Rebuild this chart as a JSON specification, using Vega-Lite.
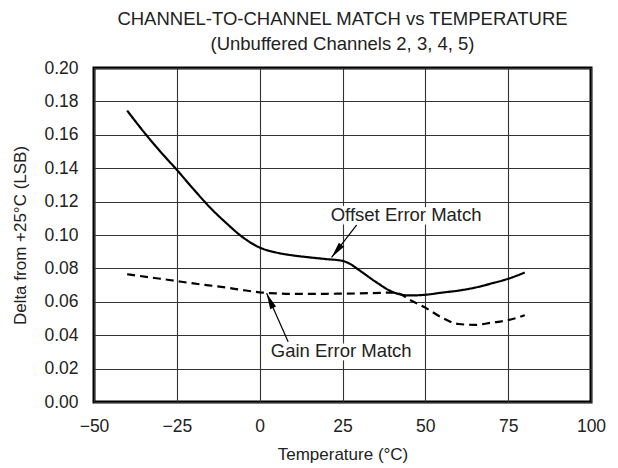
{
  "$schema": "https://vega.github.io/schema/vega-lite/v6.json",
  "width": 497,
  "height": 334,
  "autosize": {"type": "none"},
  "padding": {"left": 94, "top": 68, "right": 27, "bottom": 66},
  "background": "white",
  "title": {
    "text": ["CHANNEL-TO-CHANNEL MATCH vs TEMPERATURE", "(Unbuffered Channels 2, 3, 4, 5)"],
    "font": "Liberation Sans",
    "fontSize": 18.5,
    "fontWeight": "normal",
    "color": "#222",
    "lineHeight": 25,
    "offset": 6,
    "anchor": "middle"
  },
  "config": {
    "font": "Liberation Sans",
    "view": {"stroke": "#000", "strokeWidth": 3},
    "axis": {
      "labelFont": "Liberation Sans",
      "labelFontSize": 17.5,
      "labelColor": "#222",
      "labelFlush": false,
      "titleFont": "Liberation Sans",
      "titleFontSize": 17,
      "titleFontWeight": "normal",
      "titleColor": "#222",
      "ticks": false,
      "domain": false,
      "gridColor": "#333",
      "gridWidth": 1.1,
      "gridOpacity": 1
    }
  },
  "datasets": {
    "curves": [
      {"series": "Offset Error Match", "t": -40, "v": 0.1745},
      {"series": "Offset Error Match", "t": -35, "v": 0.1618},
      {"series": "Offset Error Match", "t": -30, "v": 0.150},
      {"series": "Offset Error Match", "t": -25, "v": 0.139},
      {"series": "Offset Error Match", "t": -20, "v": 0.1275},
      {"series": "Offset Error Match", "t": -15, "v": 0.1165},
      {"series": "Offset Error Match", "t": -10, "v": 0.107},
      {"series": "Offset Error Match", "t": -5, "v": 0.0985},
      {"series": "Offset Error Match", "t": 0, "v": 0.0925},
      {"series": "Offset Error Match", "t": 5, "v": 0.0895},
      {"series": "Offset Error Match", "t": 10, "v": 0.0878},
      {"series": "Offset Error Match", "t": 15, "v": 0.0866},
      {"series": "Offset Error Match", "t": 20, "v": 0.0856},
      {"series": "Offset Error Match", "t": 25, "v": 0.0845},
      {"series": "Offset Error Match", "t": 27, "v": 0.083},
      {"series": "Offset Error Match", "t": 30, "v": 0.079},
      {"series": "Offset Error Match", "t": 35, "v": 0.072},
      {"series": "Offset Error Match", "t": 40, "v": 0.066},
      {"series": "Offset Error Match", "t": 45, "v": 0.0638},
      {"series": "Offset Error Match", "t": 50, "v": 0.0642},
      {"series": "Offset Error Match", "t": 55, "v": 0.0655},
      {"series": "Offset Error Match", "t": 60, "v": 0.0667},
      {"series": "Offset Error Match", "t": 65, "v": 0.0685},
      {"series": "Offset Error Match", "t": 70, "v": 0.071},
      {"series": "Offset Error Match", "t": 75, "v": 0.0738},
      {"series": "Offset Error Match", "t": 80, "v": 0.0775},
      {"series": "Gain Error Match", "t": -40, "v": 0.0765},
      {"series": "Gain Error Match", "t": -30, "v": 0.0738},
      {"series": "Gain Error Match", "t": -25, "v": 0.0724},
      {"series": "Gain Error Match", "t": -20, "v": 0.071},
      {"series": "Gain Error Match", "t": -10, "v": 0.0685},
      {"series": "Gain Error Match", "t": -5, "v": 0.067},
      {"series": "Gain Error Match", "t": 0, "v": 0.0657},
      {"series": "Gain Error Match", "t": 5, "v": 0.065},
      {"series": "Gain Error Match", "t": 10, "v": 0.0647},
      {"series": "Gain Error Match", "t": 20, "v": 0.0648},
      {"series": "Gain Error Match", "t": 30, "v": 0.065},
      {"series": "Gain Error Match", "t": 40, "v": 0.0655},
      {"series": "Gain Error Match", "t": 42, "v": 0.065},
      {"series": "Gain Error Match", "t": 45, "v": 0.0615},
      {"series": "Gain Error Match", "t": 50, "v": 0.0565},
      {"series": "Gain Error Match", "t": 55, "v": 0.0505},
      {"series": "Gain Error Match", "t": 60, "v": 0.0467},
      {"series": "Gain Error Match", "t": 65, "v": 0.0462},
      {"series": "Gain Error Match", "t": 70, "v": 0.0475},
      {"series": "Gain Error Match", "t": 75, "v": 0.049},
      {"series": "Gain Error Match", "t": 80, "v": 0.052}
    ],
    "arrows": [
      {"label": "Offset Error Match", "t": 29.3, "v": 0.106, "t2": 21.7, "v2": 0.0866},
      {"label": "Gain Error Match", "t": 8.6, "v": 0.0361, "t2": 2.1, "v2": 0.0651}
    ],
    "offsetTip": [{"t": 21.7, "v": 0.0866}],
    "gainTip": [{"t": 2.1, "v": 0.0651}],
    "labels": [
      {"label": "Offset Error Match", "t": 44.2, "v": 0.112},
      {"label": "Gain Error Match", "t": 24.6, "v": 0.0307}
    ]
  },
  "encoding": {
    "x": {
      "field": "t",
      "type": "quantitative",
      "title": "Temperature (°C)",
      "scale": {"domain": [-50, 100], "nice": false, "zero": false},
      "axis": {"values": [-50, -25, 0, 25, 50, 75, 100], "labelPadding": 15, "titlePadding": 12, "grid": true}
    },
    "y": {
      "field": "v",
      "type": "quantitative",
      "title": "Delta from +25°C (LSB)",
      "scale": {"domain": [0, 0.2], "nice": false},
      "axis": {"values": [0, 0.02, 0.04, 0.06, 0.08, 0.1, 0.12, 0.14, 0.16, 0.18, 0.2], "format": ".2f", "labelPadding": 16, "titlePadding": 14, "grid": true}
    }
  },
  "layer": [
    {
      "data": {"name": "curves"},
      "mark": {"type": "line", "interpolate": "monotone", "color": "#000", "strokeWidth": 2.2},
      "encoding": {
        "strokeDash": {
          "field": "series",
          "type": "nominal",
          "scale": {"domain": ["Offset Error Match", "Gain Error Match"], "range": [[1, 0], [8, 5]]},
          "legend": null
        }
      }
    },
    {
      "data": {"name": "arrows"},
      "mark": {"type": "rule", "color": "#000", "strokeWidth": 1.2},
      "encoding": {
        "x2": {"field": "t2"},
        "y2": {"field": "v2"}
      }
    },
    {
      "data": {"name": "offsetTip"},
      "mark": {"type": "point", "filled": true, "color": "#000", "opacity": 1, "shape": "M0,0L-0.4,2L0.4,2Z", "size": 256, "angle": 218, "strokeWidth": 0}
    },
    {
      "data": {"name": "gainTip"},
      "mark": {"type": "point", "filled": true, "color": "#000", "opacity": 1, "shape": "M0,0L-0.4,2L0.4,2Z", "size": 256, "angle": 336, "strokeWidth": 0}
    },
    {
      "data": {"name": "labels"},
      "mark": {"type": "text", "font": "Liberation Sans", "fontSize": 18.5, "align": "center", "baseline": "middle", "stroke": "white", "strokeWidth": 7, "fill": "white"},
      "encoding": {"text": {"field": "label"}}
    },
    {
      "data": {"name": "labels"},
      "mark": {"type": "text", "font": "Liberation Sans", "fontSize": 18.5, "align": "center", "baseline": "middle", "color": "#222"},
      "encoding": {"text": {"field": "label"}}
    }
  ]
}
